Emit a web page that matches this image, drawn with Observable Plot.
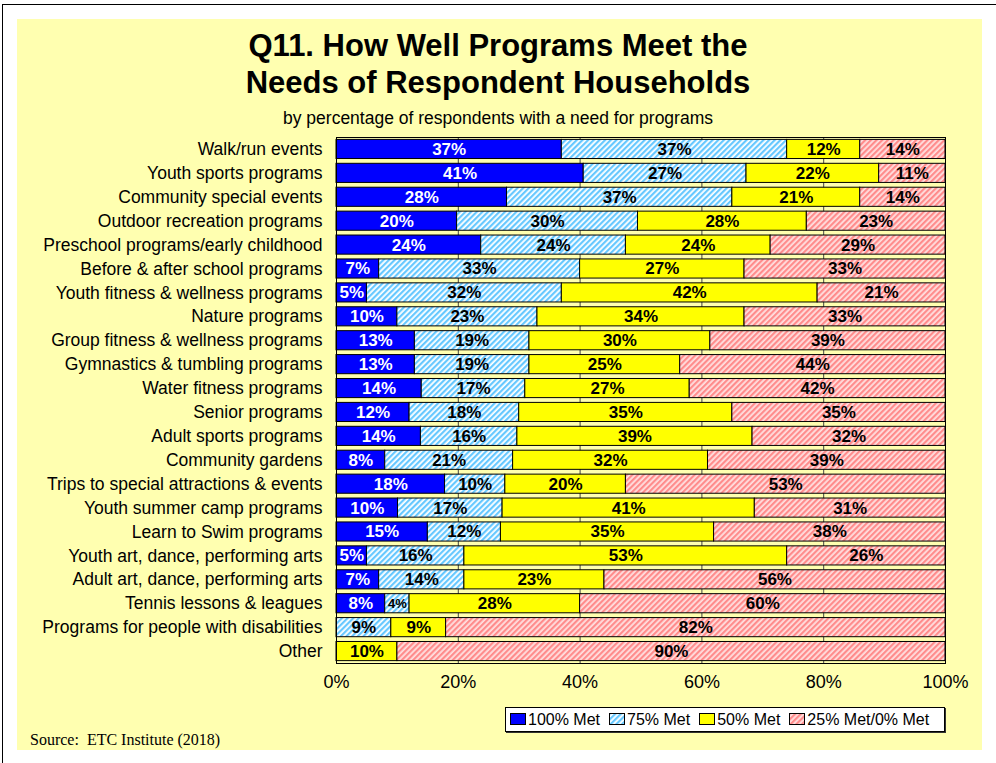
<!DOCTYPE html>
<html>
<head>
<meta charset="utf-8">
<script src="https://cdn.jsdelivr.net/npm/d3@7"></script>
<script src="https://cdn.jsdelivr.net/npm/@observablehq/plot@0.6"></script>
<style>
  html, body { margin: 0; padding: 0; background: #fff; }
  #wrap { position: relative; width: 996px; height: 763px; background: #fff; overflow: hidden; font-family: Arial, "Liberation Sans", sans-serif; }
  #border-l { position: absolute; left: 2px; top: 4px; width: 1px; height: 759px; background: #000; }
  #border-t { position: absolute; left: 2px; top: 4px; width: 994px; height: 1px; background: #000; }
  #panel { position: absolute; left: 17px; top: 19px; width: 965px; height: 731px; background: #FFFFB0; }
  #title { position: absolute; left: 0; top: 27px; width: 996px; text-align: center; font-weight: bold; font-size: 31px; line-height: 37px; color: #000; }
  #subtitle { position: absolute; left: 0; top: 108px; width: 996px; text-align: center; font-size: 17.5px; color: #000; }
  #chart { position: absolute; left: 17px; top: 127px; line-height: 0; }
  #legend { position: absolute; left: 505px; top: 707px; width: 438px; height: 23px; background: #fff; border: 1px solid #000; box-shadow: 1px 1px 0 #333; display: flex; align-items: center; font-size: 16px; color: #000; }
  #legend .item { display: flex; align-items: center; margin-left: 4px; margin-right: 5px; }
  #legend svg { margin-right: 1px; }
  #source { position: absolute; left: 30px; top: 731px; font-family: "Liberation Serif", "Times New Roman", serif; font-size: 16px; color: #000; }
</style>
</head>
<body>
<div id="wrap">
  <svg width="0" height="0" style="position:absolute">
    <defs>
      <pattern id="h75" patternUnits="userSpaceOnUse" width="4" height="4" patternTransform="rotate(45)">
        <rect width="4" height="4" fill="#FFFFFF"/>
        <rect width="2.2" height="4" fill="#66C8FF"/>
      </pattern>
      <pattern id="h25" patternUnits="userSpaceOnUse" width="4" height="4" patternTransform="rotate(45)">
        <rect width="4" height="4" fill="#FFE0E0"/>
        <rect width="2.2" height="4" fill="#FF8C8C"/>
      </pattern>
    </defs>
  </svg>
  <div id="border-l"></div>
  <div id="border-t"></div>
  <div id="panel"></div>
  <div id="title">Q11. How Well Programs Meet the<br>Needs of Respondent Households</div>
  <div id="subtitle">by percentage of respondents with a need for programs</div>
  <div id="chart"></div>
  <div id="legend"></div>
  <div id="source">Source:&nbsp; ETC Institute (2018)</div>
</div>
<script>
const categories = [
  "Walk/run events",
  "Youth sports programs",
  "Community special events",
  "Outdoor recreation programs",
  "Preschool programs/early childhood",
  "Before & after school programs",
  "Youth fitness & wellness programs",
  "Nature programs",
  "Group fitness & wellness programs",
  "Gymnastics & tumbling programs",
  "Water fitness programs",
  "Senior programs",
  "Adult sports programs",
  "Community gardens",
  "Trips to special attractions & events",
  "Youth summer camp programs",
  "Learn to Swim programs",
  "Youth art, dance, performing arts",
  "Adult art, dance, performing arts",
  "Tennis lessons & leagues",
  "Programs for people with disabilities",
  "Other"
];
const seriesNames = ["100% Met", "75% Met", "50% Met", "25% Met/0% Met"];
const met100 = [37, 41, 28, 20, 24, 7, 5, 10, 13, 13, 14, 12, 14, 8, 18, 10, 15, 5, 7, 8, 0, 0];
const met75  = [37, 27, 37, 30, 24, 33, 32, 23, 19, 19, 17, 18, 16, 21, 10, 17, 12, 16, 14, 4, 9, 0];
const met50  = [12, 22, 21, 28, 24, 27, 42, 34, 30, 25, 27, 35, 39, 32, 20, 41, 35, 53, 23, 28, 9, 10];
const met25  = [14, 11, 14, 23, 29, 33, 21, 33, 39, 44, 42, 35, 32, 39, 53, 31, 38, 26, 56, 60, 82, 90];
const xTicks = [0, 0.2, 0.4, 0.6, 0.8, 1.0];

const fills = ["#0000FF", "url(#h75)", "#FFFF00", "url(#h25)"];

const seriesValues = [met100, met75, met50, met25];
const rows = [];
categories.forEach((c, i) => {
  seriesNames.forEach((s, j) => {
    rows.push({category: c, series: s, value: seriesValues[j][i]});
  });
});

const stackBase = {x: "value", y: "category", z: "series", order: seriesNames, offset: "normalize"};

const plotFinal = Plot.plot({
  width: 965,
  height: 571,
  marginLeft: 319,
  marginRight: 37,
  marginTop: 10,
  marginBottom: 35,
  style: {background: "transparent", fontFamily: "Arial, 'Liberation Sans', sans-serif", color: "#000", overflow: "visible"},
  x: {domain: [0, 1], ticks: xTicks, tickFormat: d => Math.round(d * 100) + "%", label: null, tickSize: 0, tickPadding: 12},
  y: {domain: categories, label: null, tickSize: 0, tickPadding: 14, paddingInner: 0.2, paddingOuter: 0.1, round: false},
  color: {domain: seriesNames, range: fills},
  marks: [
    Plot.gridX(xTicks, {stroke: "#444", strokeOpacity: 1, strokeWidth: 1}),
    Plot.barX(rows, Plot.stackX({...stackBase, fill: "series", stroke: "#000", strokeWidth: 1})),
    Plot.text(rows, Plot.stackX({
      ...stackBase,
      text: d => d.series === "100% Met" && d.value > 0 ? d.value + "%" : "",
      fill: "#fff", fontWeight: "bold", fontSize: 17
    })),
    Plot.text(rows, Plot.stackX({
      ...stackBase,
      text: d => d.series !== "100% Met" && d.value > 0 ? d.value + "%" : "",
      fill: "#000", fontWeight: "bold", fontSize: d => d.value < 5 ? 13 : 17
    })),
    Plot.frame({stroke: "#000", strokeWidth: 1})
  ]
});
const host = document.getElementById("chart");
host.appendChild(plotFinal);
d3.select(plotFinal).selectAll("[aria-label='y-axis tick label']").style("font-size", "17.5px");
d3.select(plotFinal).selectAll("[aria-label='x-axis tick label']").style("font-size", "18px");

// Legend
const legend = document.getElementById("legend");
seriesNames.forEach((s, i) => {
  const item = document.createElement("div");
  item.className = "item";
  item.innerHTML = `<svg width="17" height="13"><rect x="0.5" y="0.5" width="15" height="11" fill="${fills[i]}" stroke="#000" stroke-width="1"/></svg><span>${s}</span>`;
  legend.appendChild(item);
});
</script>
</body>
</html>
